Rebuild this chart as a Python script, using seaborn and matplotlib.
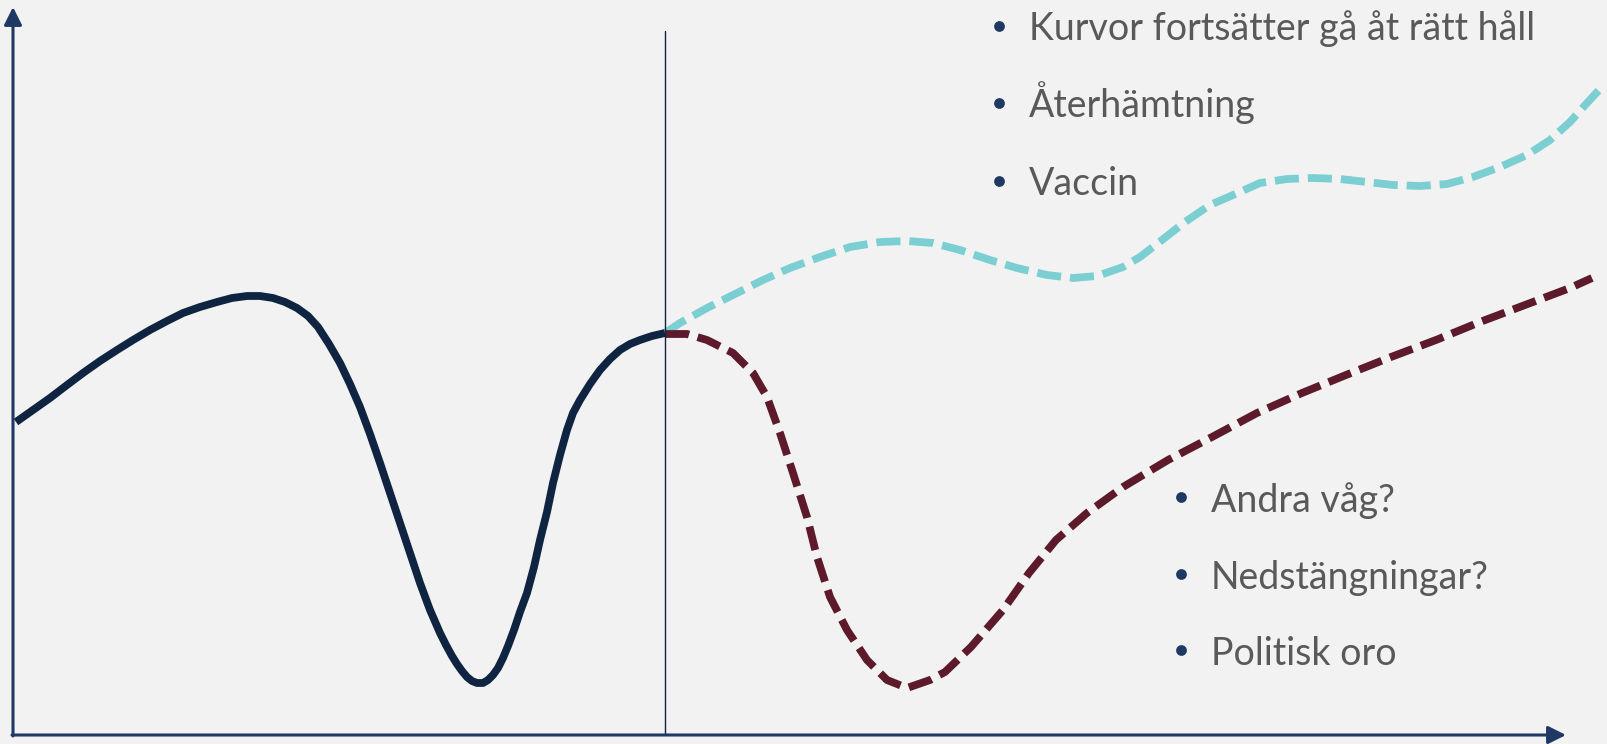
import numpy as np
import pandas as pd
import matplotlib
matplotlib.use("Agg")
import matplotlib.pyplot as plt
import seaborn as sns

# ---- data (x = time, y = level) ----
hist_x = [16, 33, 50, 67, 83, 100, 117, 133, 150, 167, 183, 200, 217, 232, 247, 260,
          273, 285, 297, 308, 318, 329, 340, 350, 360, 370, 380, 390, 400, 410, 420,
          430, 440, 446, 452, 457, 462, 467, 472, 477, 483, 488, 493, 498, 503, 508,
          514, 520, 527, 534, 540, 547, 553, 560, 567, 573, 580, 590, 600, 610, 620,
          630, 640, 652, 665]
hist_y = [322, 334, 346, 359, 371, 383, 394, 404, 414, 423, 431, 437, 442, 446, 448, 448,
          446, 442, 436, 428, 417, 400, 381, 360, 337, 310, 281, 251, 221, 191, 161,
          134, 111, 99, 88, 80, 73, 67, 63, 61, 61, 64, 69, 76, 86, 98,
          114, 132, 151, 177, 204, 232, 261, 289, 314, 331, 344, 360, 374, 385, 394,
          400, 404, 408, 411]

up_x = [665, 680, 707, 733, 763, 790, 820, 850, 880, 907, 933, 960, 990, 1017, 1047,
        1073, 1097, 1123, 1140, 1162, 1185, 1210, 1233, 1260, 1287, 1313, 1340, 1367,
        1393, 1420, 1447, 1473, 1500, 1527, 1550, 1570, 1587, 1600]
up_y = [411, 421, 436, 449, 464, 476, 487, 497, 502, 503, 501, 494, 484, 476, 469,
        466, 468, 477, 487, 504, 522, 539, 549, 561, 565, 566, 565, 562,
        559, 558, 560, 567, 577, 589, 604, 622, 641, 655]

down_x = [665, 687, 707, 733, 753, 767, 780, 793, 807, 817, 830, 847, 867, 887, 907,
          930, 945, 971, 1003, 1029, 1056, 1087, 1123, 1168, 1212, 1257, 1302, 1346,
          1391, 1436, 1480, 1525, 1570, 1592]
down_y = [410, 410, 404, 391, 371, 347, 311, 271, 227, 187, 147, 114, 84, 64, 56,
          64, 72, 97, 134, 171, 204, 231, 257, 284, 307, 331, 351, 369,
          387, 404, 422, 439, 456, 466]

split_x = 665
upper_bullets = ["Kurvor fortsätter gå åt rätt håll", "Återhämtning", "Vaccin"]
lower_bullets = ["Andra våg?", "Nedstängningar?", "Politisk oro"]

# ---- style ----
BG = "#f2f2f2"
AXIS = "#1f3864"
NAVY = "#0e2441"
TEAL = "#7bcfd3"
MAROON = "#5c1a2b"
TXT = "#595959"

sns.set_theme(style="white", rc={"axes.facecolor": BG, "figure.facecolor": BG})
plt.rcParams["font.family"] = ["Lato", "DejaVu Sans"]

fig = plt.figure(figsize=(16.08, 7.44), dpi=100)
ax = fig.add_axes([0, 0, 1, 1])
ax.set_xlim(0, 1608)
ax.set_ylim(0, 744)
ax.axis("off")

hist = pd.DataFrame({"x": hist_x, "y": hist_y})
up = pd.DataFrame({"x": up_x, "y": up_y})
down = pd.DataFrame({"x": down_x, "y": down_y})

LW = 5.6
sns.lineplot(data=up, x="x", y="y", ax=ax, sort=False, color=TEAL, lw=LW,
             linestyle=(0, (3.1, 1.15)), dash_capstyle="butt", dash_joinstyle="round")
sns.lineplot(data=down, x="x", y="y", ax=ax, sort=False, color=MAROON, lw=LW,
             linestyle=(0, (3.1, 1.15)), dash_capstyle="butt", dash_joinstyle="round")
sns.lineplot(data=hist, x="x", y="y", ax=ax, sort=False, color=NAVY, lw=LW,
             solid_capstyle="butt", solid_joinstyle="round")

# divider
ax.plot([split_x, split_x], [9, 713], color=NAVY, lw=1.0)

# axes with arrows
ax.annotate("", xy=(13, 737), xytext=(13, 8),
            arrowprops=dict(arrowstyle="-|>", lw=2.2, color=AXIS, mutation_scale=27,
                            shrinkA=0, shrinkB=0))
ax.annotate("", xy=(1566, 9), xytext=(12, 9),
            arrowprops=dict(arrowstyle="-|>", lw=2.2, color=AXIS, mutation_scale=27,
                            shrinkA=0, shrinkB=0))

# bullet text
fs = 27
for i, t in enumerate(upper_bullets):
    base = 744 - (40 + 77.5 * i)
    ax.scatter([999], [base + 14.5], s=60, color=AXIS, zorder=5, linewidths=0)
    ax.text(1029, base, t, color=TXT, fontsize=fs, fontweight="normal",
            va="baseline", ha="left")
for i, t in enumerate(lower_bullets):
    base = 744 - (512 + 76.5 * i)
    ax.scatter([1181], [base + 15], s=60, color=AXIS, zorder=5, linewidths=0)
    ax.text(1211, base, t, color=TXT, fontsize=fs, fontweight="normal",
            va="baseline", ha="left")

fig.savefig("out.png", dpi=100, facecolor=BG)
